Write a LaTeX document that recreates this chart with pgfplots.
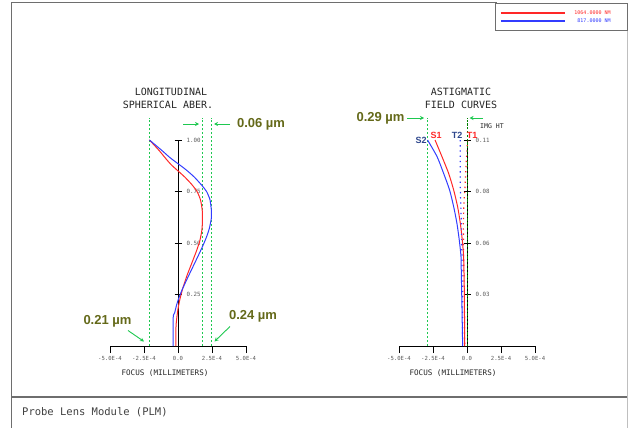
\documentclass[border=0pt]{standalone}
\usepackage{fontspec}
\setmainfont{Liberation Sans}
\newfontfamily\zf{DejaVu Sans Mono}
\newfontfamily\af{Liberation Sans}
\usepackage{pgfplots}
\pgfplotsset{compat=1.18}
\usetikzlibrary{arrows.meta}
\definecolor{zgreen}{RGB}{30,200,80}
\definecolor{olivetxt}{RGB}{100,105,25}
\definecolor{zred}{RGB}{255,40,40}
\definecolor{zblue}{RGB}{50,60,255}
\definecolor{sblue}{RGB}{45,70,140}
\definecolor{tickgray}{RGB}{90,90,90}
\definecolor{framegray}{RGB}{110,110,110}
\pgfplotsset{
  zemax/.style={
    width=136pt, height=206pt, scale only axis,
    xmin=-5, xmax=5, ymin=0, ymax=1,
    axis lines=center, axis line style={-, black, line width=0.8pt},
    clip=false, hide obscured x ticks=false, hide obscured y ticks=false,
    xtick={-5,-2.5,0,2.5,5},
    xticklabels={-5.0E-4,-2.5E-4,0.0,2.5E-4,5.0E-4},
    ytick={0.25,0.5,0.75,1},
    tick align=outside, major tick length=7pt,
    tick style={black, line width=0.8pt},
    ytick style={xshift=3.5pt},
    xticklabel style={font=\zf\fontsize{5.6}{6}\selectfont, text=tickgray},
    yticklabel style={font=\zf\fontsize{5.8}{6}\selectfont, text=tickgray, anchor=west, xshift=12pt},
  },
  gdash/.style={draw=zgreen, color=zgreen, solid, line width=1.3pt, dash pattern=on 2.4pt off 1.6pt},
}
\begin{document}
\begin{tikzpicture}
\path[use as bounding box] (0,0) rectangle (628pt,-428pt);
% frame
\draw[framegray, line width=1pt] (11pt,-3pt) -- (497pt,-3pt);
\draw[framegray, line width=1pt] (11pt,-3pt) -- (11pt,-428pt);
\draw[framegray, line width=1.5pt] (11pt,-397pt) -- (628pt,-397pt);
\draw[black!25, line width=0.8pt] (627pt,-30pt) -- (627pt,-428pt);

% left axis
\begin{axis}[zemax, at={(110pt,-346pt)}, anchor=south west,
  yticklabels={0.25,0.50,0.75,1.00},
  legend style={at={(axis description cs:3.809,1.665)}, anchor=north east,
    draw=framegray, line width=0.9pt, inner xsep=5pt, inner ysep=5.5pt,
    font=\zf\fontsize{5}{6}\selectfont, row sep=0pt,
    nodes={inner sep=0pt, minimum height=8pt}},
]
\addplot[gdash, forget plot] coordinates {(-2.1,0) (-2.1,1.107)};
\addplot[gdash, forget plot] coordinates {(1.8,0) (1.8,1.107)};
\addplot[gdash, forget plot] coordinates {(2.45,0) (2.45,1.107)};
\addplot[draw=zred, color=zred, line width=1pt, smooth, tension=0.4,
  legend image code/.code={\draw[zred, line width=1.2pt] (0pt,0pt) -- (64pt,0pt);}] coordinates {
(-2.1,1.0) (-1.4,0.95) (-0.9,0.91) (-0.5,0.88) (0,0.85) (0.5,0.82) (1.0,0.785)
(1.4,0.75) (1.65,0.71) (1.78,0.66) (1.8,0.61) (1.75,0.56) (1.6,0.51) (1.35,0.46)
(1.0,0.40) (0.65,0.34) (0.35,0.28) (0.15,0.23) (0.0,0.18) (-0.1,0.13) (-0.15,0.09) (-0.15,0.0)};
\addlegendentry{\makebox[57pt][r]{\textcolor{zred}{1064.0000 NM}\hspace{12pt}}}
\addplot[draw=zblue, color=zblue, line width=1pt, smooth, tension=0.4,
  legend image code/.code={\draw[zblue, line width=1.2pt] (0pt,0pt) -- (64pt,0pt);}] coordinates {
(-2.1,1.0) (-1.2,0.95) (-0.6,0.915) (0,0.885) (0.6,0.855) (1.2,0.82) (1.75,0.78)
(2.1,0.75) (2.35,0.71) (2.45,0.66) (2.45,0.62) (2.3,0.57) (2.1,0.53) (1.85,0.49)
(1.5,0.44) (1.1,0.385) (0.7,0.33) (0.35,0.28) (0.1,0.24) (-0.1,0.20) (-0.25,0.16)
(-0.35,0.14) (-0.35,0.0)};
\addlegendentry{\makebox[57pt][r]{\textcolor{zblue}{817.0000 NM}\hspace{12pt}}}
\end{axis}

% right axis
\begin{axis}[zemax, at={(399pt,-346pt)}, anchor=south west,
  yticklabels={0.03,0.06,0.08,0.11}]
\addplot[gdash] coordinates {(-2.9,0) (-2.9,1.107)};
\addplot[draw=zred, color=zred, line width=1pt, smooth, tension=0.4] coordinates {
(-2.35,1.0) (-1.84,0.919) (-1.35,0.838) (-0.98,0.757) (-0.69,0.676) (-0.49,0.595)
(-0.35,0.515) (-0.25,0.433) (-0.2,0.27) (-0.17,0.0)};
\addplot[draw=zblue, color=zblue, line width=1pt, smooth, tension=0.4] coordinates {
(-2.9,1.0) (-2.2,0.919) (-1.72,0.838) (-1.28,0.757) (-0.98,0.676) (-0.74,0.595)
(-0.57,0.515) (-0.44,0.433) (-0.42,0.354) (-0.37,0.19) (-0.32,0.0)};
\addplot[draw=zblue, color=zblue, line width=1.2pt, dash pattern=on 1.3pt off 3.9pt] coordinates {
(-0.49,1.0) (-0.49,0.76) (-0.42,0.6) (-0.37,0.43) (-0.35,0.25) (-0.32,0)};
\addplot[draw=zred, color=zred, line width=1.2pt, dash pattern=on 1.3pt off 3.9pt] coordinates {
(0.05,1.0) (-0.05,0.9) (-0.12,0.8) (-0.22,0.7) (-0.27,0.6) (-0.25,0.45) (-0.2,0.25) (-0.17,0)};
\addplot[draw=green!50!black, color=green!50!black, line width=1pt, dash pattern=on 2.2pt off 1.6pt] coordinates {(0,0) (0,1.107)};
\end{axis}

% titles and labels
\begin{scope}[every node/.style={inner sep=0pt, text=black!85}]
\node[font=\zf\fontsize{10}{12}\selectfont] at (171pt,-92pt) {LONGITUDINAL};
\node[font=\zf\fontsize{10}{12}\selectfont] at (168pt,-105pt) {SPHERICAL ABER.};
\node[font=\zf\fontsize{10}{12}\selectfont] at (461pt,-92pt) {ASTIGMATIC};
\node[font=\zf\fontsize{10}{12}\selectfont] at (461pt,-105pt) {FIELD CURVES};
\node[font=\zf\fontsize{7.6}{9}\selectfont] at (165pt,-373pt) {FOCUS (MILLIMETERS)};
\node[font=\zf\fontsize{7.6}{9}\selectfont] at (453pt,-373pt) {FOCUS (MILLIMETERS)};
\node[font=\zf\fontsize{6.5}{8}\selectfont, anchor=west] at (480pt,-126pt) {IMG HT};
\node[font=\zf\fontsize{10.5}{12}\selectfont, anchor=west, text=black!75] at (22pt,-412pt) {Probe Lens Module (PLM)};
\end{scope}

% curve labels
\begin{scope}[every node/.style={inner sep=0pt, font=\af\bfseries\fontsize{9}{10}\selectfont}]
\node[text=sblue] at (421pt,-140pt) {S2};
\node[text=zred] at (436pt,-135pt) {S1};
\node[text=sblue] at (457pt,-135pt) {T2};
\node[text=zred] at (472pt,-135pt) {T1};
\end{scope}

% annotations
\begin{scope}[every node/.style={inner sep=0pt, text=olivetxt, font=\af\bfseries\fontsize{13}{14}\selectfont}]
\node at (261pt,-124pt) {0.06 µm};
\node at (107.5pt,-321pt) {0.21 µm};
\node at (253pt,-316pt) {0.24 µm};
\node at (380.5pt,-118pt) {0.29 µm};
\end{scope}
\begin{scope}[zgreen, line width=0.9pt, -{Stealth[length=4pt,width=4pt]}]
\draw (183pt,-124pt) -- (199pt,-124pt);
\draw (230pt,-124pt) -- (214pt,-124pt);
\draw (128pt,-330.5pt) -- (144pt,-341.5pt);
\draw (230pt,-326.5pt) -- (214.5pt,-341.5pt);
\draw (407pt,-118pt) -- (424pt,-118pt);
\draw (483pt,-118pt) -- (469.5pt,-118pt);
\end{scope}
\end{tikzpicture}
\end{document}
